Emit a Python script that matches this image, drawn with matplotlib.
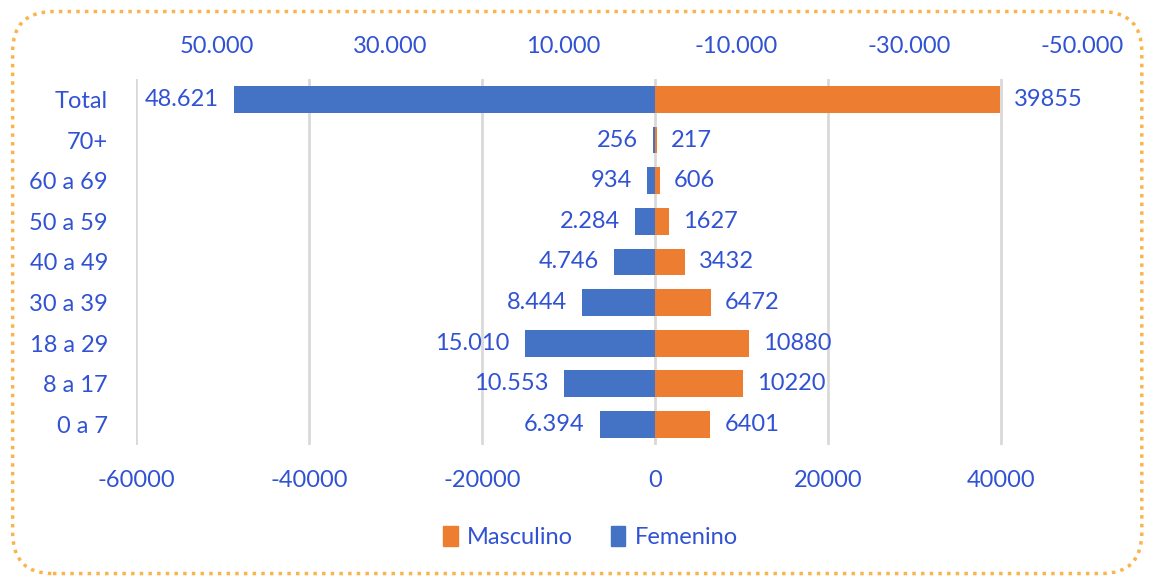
import matplotlib
matplotlib.use("Agg")
import matplotlib.pyplot as plt
from matplotlib.patches import FancyBboxPatch, Patch

# datos
grupos = ["Total", "70+", "60 a 69", "50 a 59", "40 a 49", "30 a 39", "18 a 29", "8 a 17", "0 a 7"]
femenino = [48621, 256, 934, 2284, 4746, 8444, 15010, 10553, 6394]
masculino = [39855, 217, 606, 1627, 3432, 6472, 10880, 10220, 6401]
ticks_abajo = [-60000, -40000, -20000, 0, 20000, 40000]
ticks_arriba = [50000, 30000, 10000, -10000, -30000, -50000]

azul = "#4472C4"
naranja = "#ED7D31"
texto = "#3052D3"
gris = "#D9D9D9"
fs = 17

plt.rcParams['font.family'] = ['Lato', 'DejaVu Sans']

fig = plt.figure(figsize=(11.51, 5.77), dpi=100)
ax = fig.add_axes([0.118, 0.229, 0.827, 0.634])

y = list(range(len(grupos)))
ax.barh(y, [-v for v in femenino], height=0.66, color=azul, zorder=3)
ax.barh(y, masculino, height=0.66, color=naranja, zorder=3)

for yi, f, m in zip(y, femenino, masculino):
    ax.annotate(f"{f:,}".replace(",", "."), (-f, yi), xytext=(-11, 0), textcoords="offset points",
                ha="right", va="center", color=texto, fontsize=fs)
    ax.annotate(str(m), (m, yi), xytext=(10, 0), textcoords="offset points",
                ha="left", va="center", color=texto, fontsize=fs)

ax.set_xlim(-60000, 50000)
ax.set_ylim(len(grupos) - 0.5, -0.5)
ax.set_yticks(y)
ax.set_yticklabels(grupos)
ax.set_xticks(ticks_abajo)
ax.set_xticklabels([str(t) for t in ticks_abajo])
for t in ticks_abajo:
    ax.axvline(t, color=gris, lw=2, zorder=1)
ax.tick_params(axis="y", length=0, pad=20, labelsize=fs, labelcolor=texto)
ax.tick_params(axis="x", length=0, pad=18, labelsize=fs, labelcolor=texto)
for s in ax.spines.values():
    s.set_visible(False)

# eje secundario superior (invertido)
off = 600
ax2 = ax.twiny()
ax2.set_xlim(60000 - off, -50000 - off)
ax2.set_xticks(ticks_arriba)
ax2.set_xticklabels([f"{t:,}".replace(",", ".") for t in ticks_arriba])
ax2.tick_params(axis="x", length=0, pad=16, labelsize=fs, labelcolor=texto)
for s in ax2.spines.values():
    s.set_visible(False)

handles = [Patch(color=naranja, label="Masculino"), Patch(color=azul, label="Femenino")]
leg = fig.legend(handles=handles, loc="center", bbox_to_anchor=(0.513, 0.069), ncol=2, frameon=False,
                 fontsize=fs, handlelength=0.6, handleheight=0.9, handletextpad=0.4, columnspacing=1.6)
for t in leg.get_texts():
    t.set_color(texto)

borde = FancyBboxPatch((0.011, 0.006), 0.981, 0.974, boxstyle="round,pad=0,rounding_size=0.035",
                       transform=fig.transFigure, fill=False, edgecolor="#F9B54C", lw=2.5,
                       linestyle=(0, (1, 1.5)), mutation_aspect=2.0)
fig.patches.append(borde)

fig.savefig("out.png", dpi=100)
